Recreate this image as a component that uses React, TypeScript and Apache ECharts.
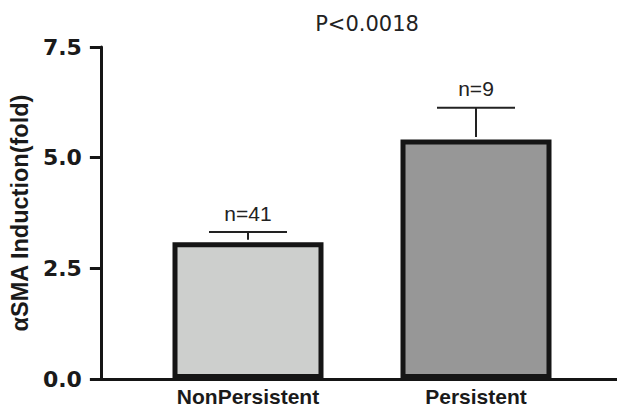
import React, { useEffect, useRef } from "react";
import * as echarts from "echarts";

const categories = ["NonPersistent", "Persistent"];
const means = [3.09, 5.41];
const errors = [0.23, 0.72];
const counts = ["n=41", "n=9"];
const barColors = ["#cdcfcd", "#979797"];
const title = "P<0.0018";
const yName = "αSMA Induction(fold)";

export default function App() {
  const ref = useRef<HTMLDivElement>(null);
  useEffect(() => {
    if (!ref.current) return;
    const chart = echarts.init(ref.current, null, { renderer: "svg" });
    const option: any = {
      animation: false,
      backgroundColor: "#ffffff",
      title: {
        text: title,
        left: 362,
        textAlign: "center",
        top: 8,
        textStyle: { fontFamily: "DejaVu Sans", fontSize: 21, fontWeight: "normal", color: "#222" },
      },
      grid: [
        { left: 96, right: 0, top: 47, bottom: 29 },
        { left: 134, width: 456, top: 47, bottom: 29 },
      ],
      xAxis: [
        {
          gridIndex: 0,
          type: "value",
          min: 0,
          max: 1,
          axisLine: { show: true, lineStyle: { color: "#151515", width: 3 } },
          axisTick: { show: false },
          axisLabel: { show: false },
          splitLine: { show: false },
        },
        {
          gridIndex: 1,
          type: "category",
          data: categories,
          boundaryGap: true,
          axisLine: { show: false },
          axisTick: { show: false },
          axisLabel: {
            margin: 7,
            fontFamily: "Liberation Sans",
            fontWeight: "bold",
            fontSize: 21,
            color: "#1a1a1a",
          },
        },
      ],
      yAxis: [
        {
          gridIndex: 0,
          type: "value",
          min: 0,
          max: 7.5,
          interval: 2.5,
          name: yName,
          nameLocation: "middle",
          nameRotate: 90,
          nameGap: 56,
          nameTextStyle: {
            fontFamily: "Liberation Sans",
            fontWeight: "bold",
            fontSize: 23.5,
            color: "#1a1a1a",
          },
          axisLine: { show: true, lineStyle: { color: "#151515", width: 3 } },
          axisTick: { show: true, inside: false, length: 11, lineStyle: { color: "#151515", width: 3 } },
          axisLabel: {
            margin: 19,
            formatter: (v: number) => v.toFixed(1),
            fontFamily: "DejaVu Sans",
            fontWeight: "bold",
            fontSize: 22,
            color: "#1a1a1a",
          },
          splitLine: { show: false },
        },
        { gridIndex: 1, type: "value", min: 0, max: 7.5, show: false },
      ],
      series: [
        {
          type: "bar",
          xAxisIndex: 1,
          yAxisIndex: 1,
          barWidth: 151,
          data: means.map((m, i) => ({
            value: m,
            itemStyle: { color: barColors[i], borderColor: "#151515", borderWidth: 5 },
          })),
          z: 2,
        },
        {
          type: "custom",
          xAxisIndex: 1,
          yAxisIndex: 1,
          z: 3,
          data: means.map((m, i) => [i, m, errors[i], i]),
          renderItem: (params: any, api: any) => {
            const x = api.value(0);
            const m = api.value(1);
            const e = api.value(2);
            const idx = api.value(3);
            const base = api.coord([x, m]);
            const top = api.coord([x, m + e]);
            const half = 39;
            return {
              type: "group",
              children: [
                {
                  type: "line",
                  shape: { x1: top[0], y1: base[1] - 2.5, x2: top[0], y2: top[1] },
                  style: { stroke: "#222", lineWidth: 2 },
                },
                {
                  type: "line",
                  shape: { x1: top[0] - half, y1: top[1], x2: top[0] + half, y2: top[1] },
                  style: { stroke: "#222", lineWidth: 2 },
                },
                {
                  type: "text",
                  x: top[0],
                  y: top[1] - 19,
                  style: {
                    text: counts[idx],
                    align: "center",
                    verticalAlign: "middle",
                    fontFamily: "Liberation Sans",
                    fontSize: 21,
                    fill: "#222",
                  },
                },
              ],
            };
          },
        },
      ],
    };
    chart.setOption(option);
    return () => chart.dispose();
  }, []);
  return (
    <div
      ref={ref}
      style={{ position: "absolute", left: 0, top: 0, width: 617, height: 408 }}
    />
  );
}
